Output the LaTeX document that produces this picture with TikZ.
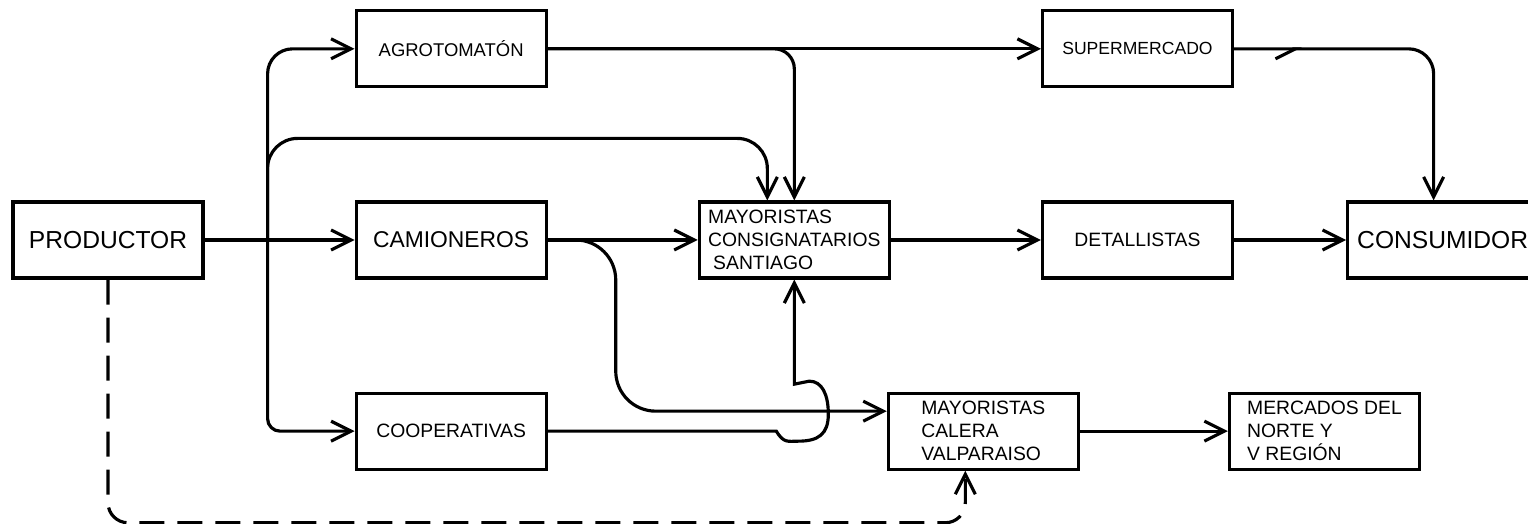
\documentclass[tikz,border=0pt]{standalone}
\usepackage{fontspec}
\setsansfont{Liberation Sans}
\usetikzlibrary{arrows.meta,positioning,calc,decorations.markings}

\begin{document}
\begin{tikzpicture}[
  node distance=22.4mm and 30mm,
  box/.style={draw, line width=1.8pt, minimum width=38mm, minimum height=15.2mm,
              inner sep=1mm, font=\sffamily\fontsize{13}{15}\selectfont},
  multi/.style={box, align=left, font=\sffamily\fontsize{11}{13}\selectfont},
  ar/.style={-{Straight Barb[length=4mm, width=4mm]}, line width=1.8pt},
  midar/.style={postaction={decorate}, decoration={markings,
      mark=at position #1 with {\arrow{Straight Barb[harpoon, swap, length=4mm, width=4mm]}}}}
]
  \useasboundingbox (-21.6mm,-56.8mm) rectangle (284mm,48mm);
  \node[box, font=\sffamily\fontsize{14}{16}\selectfont] (prod) at (0,0) {PRODUCTOR};
  \node[box, right=of prod] (cam) {CAMIONEROS};
  \node[box, above=of cam, font=\sffamily\fontsize{10.5}{12}\selectfont] (agro) {AGROTOMATÓN};
  \node[box, below=of cam, font=\sffamily\fontsize{11}{13}\selectfont] (coop) {COOPERATIVAS};
  \node[multi, right=of cam] (sant) {MAYORISTAS\\CONSIGNATARIOS\\\hspace*{1mm}SANTIAGO};
  \node[box, right=of sant, font=\sffamily\fontsize{11}{13}\selectfont] (det) {DETALLISTAS};
  \node[box, right=22.4mm of det, font=\sffamily\fontsize{14}{16}\selectfont] (cons) {CONSUMIDOR};
  \node[box, above=of det, font=\sffamily\fontsize{10}{12}\selectfont] (sup) {SUPERMERCADO};
  \node[multi, right=67.8mm of coop] (cal) {MAYORISTAS\\CALERA\\VALPARAISO};
  \node[multi, right=29.6mm of cal] (merc) {MERCADOS DEL\\NORTE Y\\V REGIÓN};
  \coordinate (split) at ($(prod.east)!0.42!(cam.west)$);
  \coordinate (hop) at ($(coop.east -| sant.south)+(-3.6mm,0)$);
  \draw[ar] (prod) -- (cam);
  \draw[ar, rounded corners=5mm] (split) |- (agro.west);
  \draw[ar, rounded corners=2.5mm] (split) |- (coop.west);
  \draw[ar, rounded corners=6mm] (split) |- ($([xshift=-5.4mm]sant.north)+(0,12.4mm)$)
    -- ([xshift=-5.4mm]sant.north);
  \draw[ar] (agro) -- (sup);
  \draw[ar, rounded corners=4mm] (agro.east) -| (sant.north);
  \draw[ar] (cam) -- (sant);
  \draw[ar, rounded corners=8mm] (cam.east) -- ++(13.6mm,0) |- ([yshift=4mm]cal.west);
  \draw[ar] (coop.east) -- (hop)
    .. controls +(1.5mm,-2.5mm) and +(-2mm,0) .. ($(hop)+(4.4mm,-2mm)$)
    .. controls +(4mm,0) and +(0,-4mm) .. ($(hop)+(10.4mm,3.4mm)$)
    .. controls +(0,4mm) and +(2.5mm,0) .. ($(hop)+(6.6mm,10mm)$)
    -- ($(hop)+(3.6mm,9.4mm)$) -- (sant.south);
  \draw[ar] (sant) -- (det);
  \draw[ar] (det) -- (cons);
  \draw[ar, midar=0.2, rounded corners=5mm] (sup.east) -| ([xshift=-1.8mm]cons.north);
  \draw[ar] (cal) -- (merc);
  \draw[ar, dash pattern=on 5mm off 2.6mm, rounded corners=4mm] (prod.south)
    |- ($([xshift=-3.6mm]cal.south)+(0,-10.4mm)$) -- ([xshift=-3.6mm]cal.south);
\end{tikzpicture}
\end{document}
